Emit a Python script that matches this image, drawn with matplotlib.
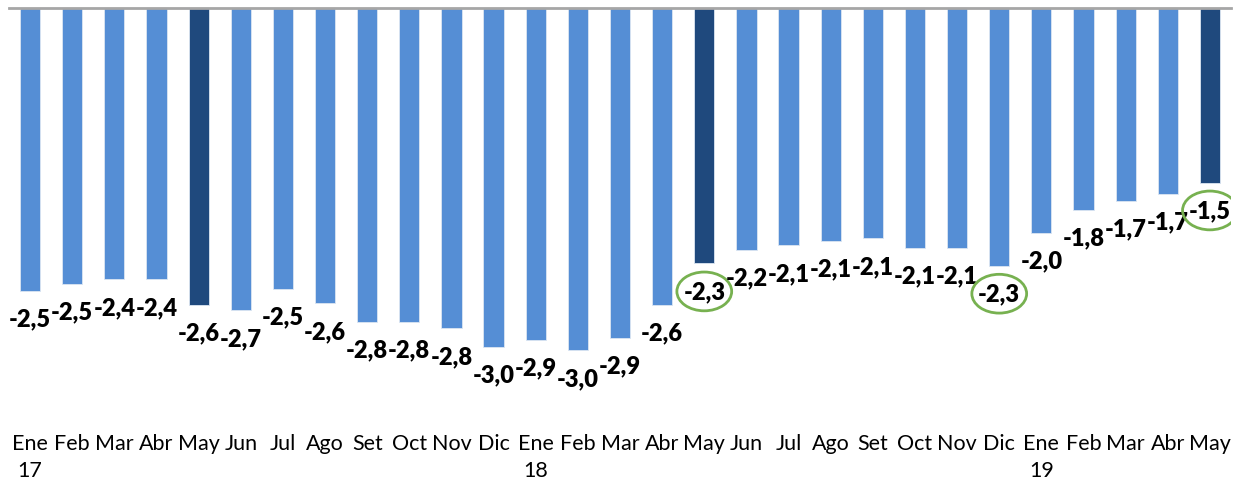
import matplotlib.pyplot as plt
from matplotlib.patches import Ellipse

months = ['Ene\n17', 'Feb', 'Mar', 'Abr', 'May', 'Jun', 'Jul', 'Ago', 'Set', 'Oct', 'Nov', 'Dic',
          'Ene\n18', 'Feb', 'Mar', 'Abr', 'May', 'Jun', 'Jul', 'Ago', 'Set', 'Oct', 'Nov', 'Dic',
          'Ene\n19', 'Feb', 'Mar', 'Abr', 'May']
values = [-2.48, -2.42, -2.38, -2.38, -2.60, -2.65, -2.46, -2.59, -2.75, -2.75, -2.81, -2.97,
          -2.91, -3.00, -2.89, -2.60, -2.24, -2.12, -2.08, -2.04, -2.02, -2.10, -2.10, -2.26,
          -1.97, -1.77, -1.69, -1.63, -1.53]
labels = ['-2,5', '-2,5', '-2,4', '-2,4', '-2,6', '-2,7', '-2,5', '-2,6', '-2,8', '-2,8', '-2,8', '-3,0',
          '-2,9', '-3,0', '-2,9', '-2,6', '-2,3', '-2,2', '-2,1', '-2,1', '-2,1', '-2,1', '-2,1', '-2,3',
          '-2,0', '-1,8', '-1,7', '-1,7', '-1,5']
dark = [4, 16, 28]
circled = [16, 23, 28]

light_c = '#558ED5'
dark_c = '#1F497D'
green = '#77B150'

plt.rcParams['font.family'] = ['Lato', 'DejaVu Sans']

fig = plt.figure(figsize=(12.4, 4.85), dpi=100)
ax = fig.add_axes([9 / 1240, 54 / 485, 1222 / 1240, 422 / 485])

x = list(range(len(values)))
colors = [dark_c if i in dark else light_c for i in x]
ax.bar(x, values, width=0.48, color=colors, edgecolor='#DCE6F2', linewidth=0.6, zorder=2)

for i, (v, lab) in enumerate(zip(values, labels)):
    ax.annotate(lab, (i, v), xytext=(0, -20), textcoords='offset points',
                ha='center', va='center', fontsize=17, fontweight='heavy', color='black')
    if i in circled:
        ax.add_patch(Ellipse((i, v - 0.245), 1.3, 0.34, fill=False,
                             edgecolor=green, linewidth=2, zorder=3))

ax.set_xlim(-0.5, len(values) - 0.5)
ax.set_ylim(-3.7, 0)
ax.set_xticks(x)
ax.set_xticklabels(months, fontsize=15.5, linespacing=1.45, va='top')
ax.tick_params(axis='x', length=0, pad=2)
ax.set_yticks([])
for s in ['left', 'right', 'bottom']:
    ax.spines[s].set_visible(False)
ax.spines['top'].set_color('#A6A6A6')
ax.spines['top'].set_linewidth(2)

fig.savefig('out.png', dpi=100)
